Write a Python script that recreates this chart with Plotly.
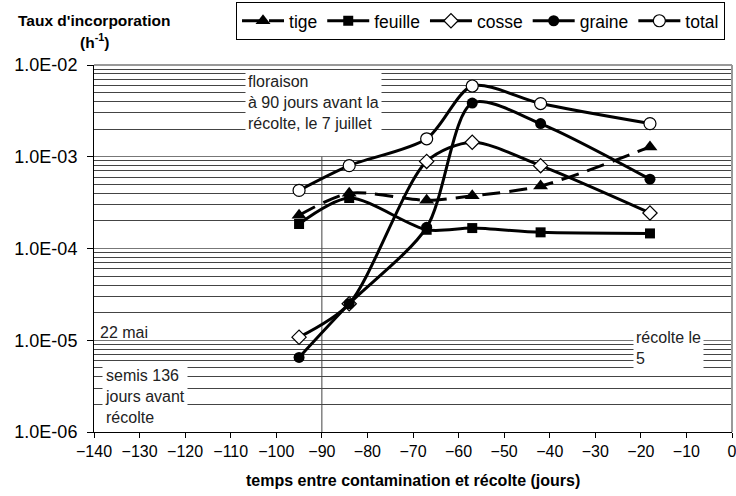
import plotly.graph_objects as go

# Days between contamination and harvest
days = [-95, -84, -67, -57, -42, -18]

# Incorporation rates (h^-1)
tige = [2.3e-4, 4.0e-4, 3.35e-4, 3.75e-4, 4.8e-4, 1.28e-3]
feuille = [1.85e-4, 3.55e-4, 1.6e-4, 1.67e-4, 1.5e-4, 1.46e-4]
cosse = [1.08e-5, 2.5e-5, 8.9e-4, 1.44e-3, 8.0e-4, 2.44e-4]
graine = [6.5e-6, 2.5e-5, 1.7e-4, 3.85e-3, 2.3e-3, 5.7e-4]
total = [4.3e-4, 8.0e-4, 1.57e-3, 5.9e-3, 3.8e-3, 2.3e-3]

series_names = ["tige", "feuille", "cosse", "graine", "total"]

y_tickvals = [1e-6, 1e-5, 1e-4, 1e-3, 1e-2]
y_ticktext = ["1.0E-06", "1.0E-05", "1.0E-04", "1.0E-03", "1.0E-02"]
x_tickvals = list(range(-140, 1, 10))

floraison_x = -90
floraison_y = [1e-6, 1e-3]

FONT = "Liberation Sans, Arial, sans-serif"

fig = go.Figure()

styles = {
    "tige": dict(symbol="triangle-up", size=13, color="black", line=dict(width=0), dash="18px,9px"),
    "feuille": dict(symbol="square", size=10, color="black", line=dict(width=0), dash="solid"),
    "cosse": dict(symbol="diamond", size=11, color="white", line=dict(width=1.2, color="black"), dash="solid"),
    "graine": dict(symbol="circle", size=11, color="black", line=dict(width=0), dash="solid"),
    "total": dict(symbol="circle", size=12, color="white", line=dict(width=1.2, color="black"), dash="solid"),
}
data = {"tige": tige, "feuille": feuille, "cosse": cosse, "graine": graine, "total": total}

# vertical reference line (floraison)
fig.add_trace(go.Scatter(
    x=[floraison_x, floraison_x], y=floraison_y, mode="lines",
    line=dict(color="#444", width=1), showlegend=False, hoverinfo="skip"))

for name in series_names:
    s = styles[name]
    fig.add_trace(go.Scatter(
        x=days, y=data[name], name=name, mode="lines+markers",
        line=dict(color="black", width=3, shape="spline", smoothing=0.8, dash=s["dash"]),
        marker=dict(symbol=s["symbol"], size=s["size"], color=s["color"], line=s["line"]),
    ))

fig.update_layout(
    width=736, height=496,
    margin=dict(l=94, r=4, t=65, b=64, autoexpand=False),
    paper_bgcolor="white", plot_bgcolor="white",
    font=dict(family=FONT, color="black", size=16),
    showlegend=True,
    legend=dict(
        orientation="h", x=0.2226, y=1.172, xanchor="left", yanchor="top",
        bordercolor="black", borderwidth=1, font=dict(size=17.5, family=FONT),
        itemwidth=42, tracegroupgap=0,
    ),
    xaxis=dict(
        range=[-140, 0], tickvals=x_tickvals, ticks="outside", ticklen=5,
        tickcolor="black", showline=True, linecolor="black", linewidth=1,
        showgrid=False, zeroline=False, mirror=False, automargin=False,
        tickfont=dict(size=16, family=FONT), ticklabeloverflow="allow",
    ),
    yaxis=dict(
        type="log", range=[-6, -2], tickvals=y_tickvals, ticktext=y_ticktext,
        ticks="outside", ticklen=6, tickcolor="black",
        showline=True, linecolor="black", linewidth=1, automargin=False,
        showgrid=True, gridcolor="#777", gridwidth=1,
        minor=dict(dtick="D1", showgrid=True, gridcolor="#444", gridwidth=1, ticks=""),
        tickfont=dict(size=18, family=FONT), ticklabelstandoff=6,
    ),
    shapes=[
        dict(type="line", xref="paper", yref="paper", x0=1, x1=1, y0=0, y1=1,
             line=dict(color="#999", width=2)),
        dict(type="line", xref="paper", yref="paper", x0=0, x1=1, y0=1, y1=1,
             line=dict(color="#999", width=2)),
    ],
)

ann_font = dict(size=16, family=FONT, color="#222")
fig.add_annotation(xref="paper", yref="paper", x=(245 - 94) / 638, y=(432 - 70) / 367,
                   xanchor="left", yanchor="top", align="left", showarrow=False,
                   text="floraison<br>à 90 jours avant la<br>récolte, le 7 juillet",
                   bgcolor="white", borderpad=2, font=ann_font)
fig.add_annotation(xref="paper", yref="paper", x=(98 - 94) / 638, y=(432 - 332) / 367,
                   xanchor="left", yanchor="middle", align="left", showarrow=False,
                   text="22 mai", font=ann_font)
fig.add_annotation(xref="paper", yref="paper", x=(102 - 94) / 638, y=(432 - 364) / 367,
                   xanchor="left", yanchor="top", align="left", showarrow=False,
                   text="semis 136<br>jours avant<br>récolte",
                   bgcolor="white", borderpad=2, font=ann_font)
fig.add_annotation(xref="paper", yref="paper", x=(633 - 94) / 638, y=(432 - 326) / 367,
                   xanchor="left", yanchor="top", align="left", showarrow=False,
                   text="récolte le<br>5",
                   bgcolor="white", borderpad=2, font=ann_font)

# axis titles
fig.add_annotation(xref="paper", yref="paper", x=0.5, y=(432 - 480) / 367,
                   xanchor="center", yanchor="middle", showarrow=False,
                   text="<b>temps entre contamination et récolte (jours)</b>",
                   font=dict(size=16, family=FONT))
fig.add_annotation(xref="paper", yref="paper", x=0, y=(432 - 20) / 367,
                   xanchor="center", yanchor="middle", showarrow=False,
                   text="<b>Taux d'incorporation</b>",
                   font=dict(size=15.5, family=FONT))
fig.add_annotation(xref="paper", yref="paper", x=0, y=(432 - 41) / 367,
                   xanchor="center", yanchor="middle", showarrow=False,
                   text="<b>(h<sup>-1</sup>)</b>",
                   font=dict(size=15.5, family=FONT))

fig.write_html("out.html", config={"displayModeBar": False},
               post_script="document.body.style.margin='0';document.body.style.padding='0';")
